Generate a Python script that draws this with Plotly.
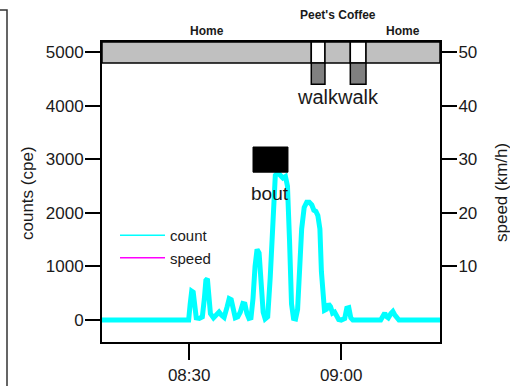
import plotly.graph_objects as go
from datetime import datetime

DAY = "2024-05-14 "

# ---- data ----
count_times = ["08:12:48", "08:29:54", "08:30:12", "08:30:30", "08:30:48", "08:31:06", "08:31:24",
               "08:32:00", "08:32:36", "08:33:00", "08:33:18", "08:33:36", "08:33:54", "08:34:12",
               "08:34:48", "08:35:24", "08:35:54", "08:36:24", "08:36:54",
               "08:37:30", "08:37:54", "08:38:18", "08:38:42", "08:39:06",
               "08:39:36", "08:40:06", "08:40:36", "08:41:00", "08:41:24", "08:41:48",
               "08:42:12", "08:42:36", "08:43:00", "08:43:24", "08:43:48", "08:44:12", "08:44:36", "08:45:00",
               "08:45:30", "08:46:00", "08:46:30", "08:47:00", "08:47:30", "08:48:00", "08:48:30",
               "08:49:00", "08:49:24", "08:49:48", "08:50:12", "08:50:36", "08:51:00",
               "08:51:24", "08:51:48", "08:52:12", "08:52:42", "08:53:12", "08:53:42", "08:54:12",
               "08:54:36", "08:55:00", "08:55:24", "08:55:48", "08:56:06", "08:56:24", "08:56:42",
               "08:57:06", "08:57:30", "08:57:54", "08:58:18", "08:58:42", "08:59:06", "08:59:30",
               "09:00:00", "09:00:42", "09:01:06", "09:01:30", "09:01:54", "09:02:18",
               "09:07:48", "09:08:18", "09:08:36", "09:08:54", "09:09:18", "09:09:48", "09:10:12",
               "09:10:36", "09:11:00", "09:11:24", "09:19:30"]
count_values = [0, 0, 300, 540, 520, 250, 40,
                30, 60, 400, 740, 770, 450, 120,
                40, 100, 150, 90, 50,
                250, 400, 380, 150, 40,
                60, 150, 310, 300, 120, 30,
                40, 400, 1000, 1320, 1250, 700, 150, 20,
                60, 800, 2000, 2700, 2750, 2700, 2650,
                2680, 2500, 1500, 300, 30, 20,
                200, 900, 1700, 2100, 2200, 2200, 2150,
                2050, 2030, 1950, 1700, 900, 300, 180,
                200, 300, 250, 130, 150, 50, 10,
                0, 30, 220, 230, 40, 0,
                0, 80, 130, 70, 40, 120, 160,
                90, 30, 0, 0]

speed_times = []
speed_values = []

segment_labels = ["Home", "walk", "Peet's Coffee", "walk", "Home"]
segment_starts = ["08:12:48", "08:54:06", "08:56:48", "09:01:48", "09:04:54"]
segment_ends = ["08:54:06", "08:56:48", "09:01:48", "09:04:54", "09:19:30"]

bout_start = "08:42:36"
bout_end = "08:49:30"
bout_low = 2760
bout_high = 3230

x_range = ["08:12:48", "09:19:30"]
x_ticks = ["08:30:00", "09:00:00"]
x_ticktext = ["08:30", "09:00"]
count_ticks = [0, 1000, 2000, 3000, 4000, 5000]
speed_ticks = [10, 20, 30, 40, 50]
count_range = [-410, 5190]
speed_range = [-4.1, 51.9]
band_low = 4800
walk_low = 4400

# ---- layout constants ----
W, H = 510, 388
ML, MR, MT, MB = 102, 70, 42, 46
PW, PH = W - ML - MR, H - MT - MB
FONT = "Liberation Sans, Arial, sans-serif"
TXT = "#1a1a1a"


def t(s):
    return DAY + s


def px_x(p):
    return (p - ML) / PW


def px_y(p):
    return (H - MB - p) / PH


def mid(a, b):
    da = datetime.strptime(t(a), "%Y-%m-%d %H:%M:%S")
    db = datetime.strptime(t(b), "%Y-%m-%d %H:%M:%S")
    return (da + (db - da) / 2).strftime("%Y-%m-%d %H:%M:%S")


fig = go.Figure()
fig.add_trace(go.Scatter(x=[t(s) for s in count_times], y=count_values, mode="lines",
                         name="count", showlegend=False, legendgroup="count",
                         line=dict(color="#00ffff", width=5)))
# legend entries (thin lines, as in the original legend)
fig.add_trace(go.Scatter(x=[None], y=[None], mode="lines", name="count", legendgroup="count",
                         line=dict(color="#00ffff", width=1.5)))
fig.add_trace(go.Scatter(x=[t(s) for s in speed_times] or [None], y=speed_values or [None],
                         mode="lines", name="speed", yaxis="y2",
                         line=dict(color="#ff00ff", width=1.5)))

shapes = []
annotations = []
for lab, s, e in zip(segment_labels, segment_starts, segment_ends):
    is_walk = lab == "walk"
    shapes.append(dict(type="rect", xref="x", yref="y", x0=t(s), x1=t(e),
                       y0=band_low, y1=count_range[1],
                       fillcolor="white" if is_walk else "#c0c0c0",
                       line=dict(color="black", width=1.5), layer="above"))
    if is_walk:
        shapes.append(dict(type="rect", xref="x", yref="y", x0=t(s), x1=t(e),
                           y0=walk_low, y1=band_low, fillcolor="#808080",
                           line=dict(color="black", width=1.5), layer="above"))
        annotations.append(dict(x=mid(s, e), y=4160, xref="x", yref="y", text=lab,
                                showarrow=False, font=dict(size=20, color=TXT, family=FONT),
                                xanchor="center", yanchor="middle"))
    else:
        ypix = 15 if lab != "Home" else 31
        annotations.append(dict(x=mid(s, e), y=px_y(ypix), xref="x", yref="paper", text="<b>" + lab + "</b>",
                                showarrow=False, font=dict(size=12, color=TXT, family=FONT),
                                xanchor="center", yanchor="middle"))

shapes.append(dict(type="rect", xref="x", yref="y", x0=t(bout_start), x1=t(bout_end),
                   y0=bout_low, y1=bout_high, fillcolor="black",
                   line=dict(color="black", width=1), layer="above"))
annotations.append(dict(x=mid(bout_start, bout_end), y=2360, xref="x", yref="y", text="bout",
                        showarrow=False, font=dict(size=19, color=TXT, family=FONT),
                        xanchor="center", yanchor="middle"))

# outer frame fragment at the left
shapes.append(dict(type="path", xref="paper", yref="paper",
                   path=f"M {px_x(0)} {px_y(10)} L {px_x(7)} {px_y(10)} L {px_x(7)} {px_y(386)}",
                   line=dict(color="#333333", width=1.5)))

annotations.append(dict(x=px_x(27), y=px_y(193), xref="paper", yref="paper", text="counts (cpe)",
                        textangle=-90, showarrow=False, font=dict(size=17, color=TXT, family=FONT),
                        xanchor="center", yanchor="middle"))
annotations.append(dict(x=px_x(501), y=px_y(193), xref="paper", yref="paper", text="speed (km/h)",
                        textangle=-90, showarrow=False, font=dict(size=17, color=TXT, family=FONT),
                        xanchor="center", yanchor="middle"))

axis_common = dict(showgrid=False, zeroline=False, showline=True, linecolor="black", linewidth=2,
                   ticks="outside", tickwidth=2, tickcolor="black", automargin=False,
                   tickfont=dict(size=17, color=TXT, family=FONT))

fig.update_layout(
    width=W, height=H, margin=dict(l=ML, r=MR, t=MT, b=MB, autoexpand=False),
    paper_bgcolor="white", plot_bgcolor="white",
    font=dict(family=FONT, color=TXT),
    shapes=shapes, annotations=annotations,
    showlegend=True,
    legend=dict(x=px_x(115), y=px_y(219), xanchor="left", yanchor="top",
                bgcolor="rgba(0,0,0,0)", font=dict(size=15, color=TXT, family=FONT),
                tracegroupgap=0, itemwidth=45),
    xaxis=dict(type="date", range=[t(x_range[0]), t(x_range[1])],
               tickvals=[t(v) for v in x_ticks], ticktext=x_ticktext, mirror=True,
               ticklen=16, ticklabelstandoff=1, **axis_common),
    yaxis=dict(range=count_range, tickvals=count_ticks, mirror=True,
               ticklen=15, ticklabelstandoff=-2, **axis_common),
    yaxis2=dict(range=speed_range, tickvals=speed_ticks, overlaying="y", side="right",
                ticklen=15, ticklabelstandoff=-2, **axis_common),
)

fig.write_html("out.html")
